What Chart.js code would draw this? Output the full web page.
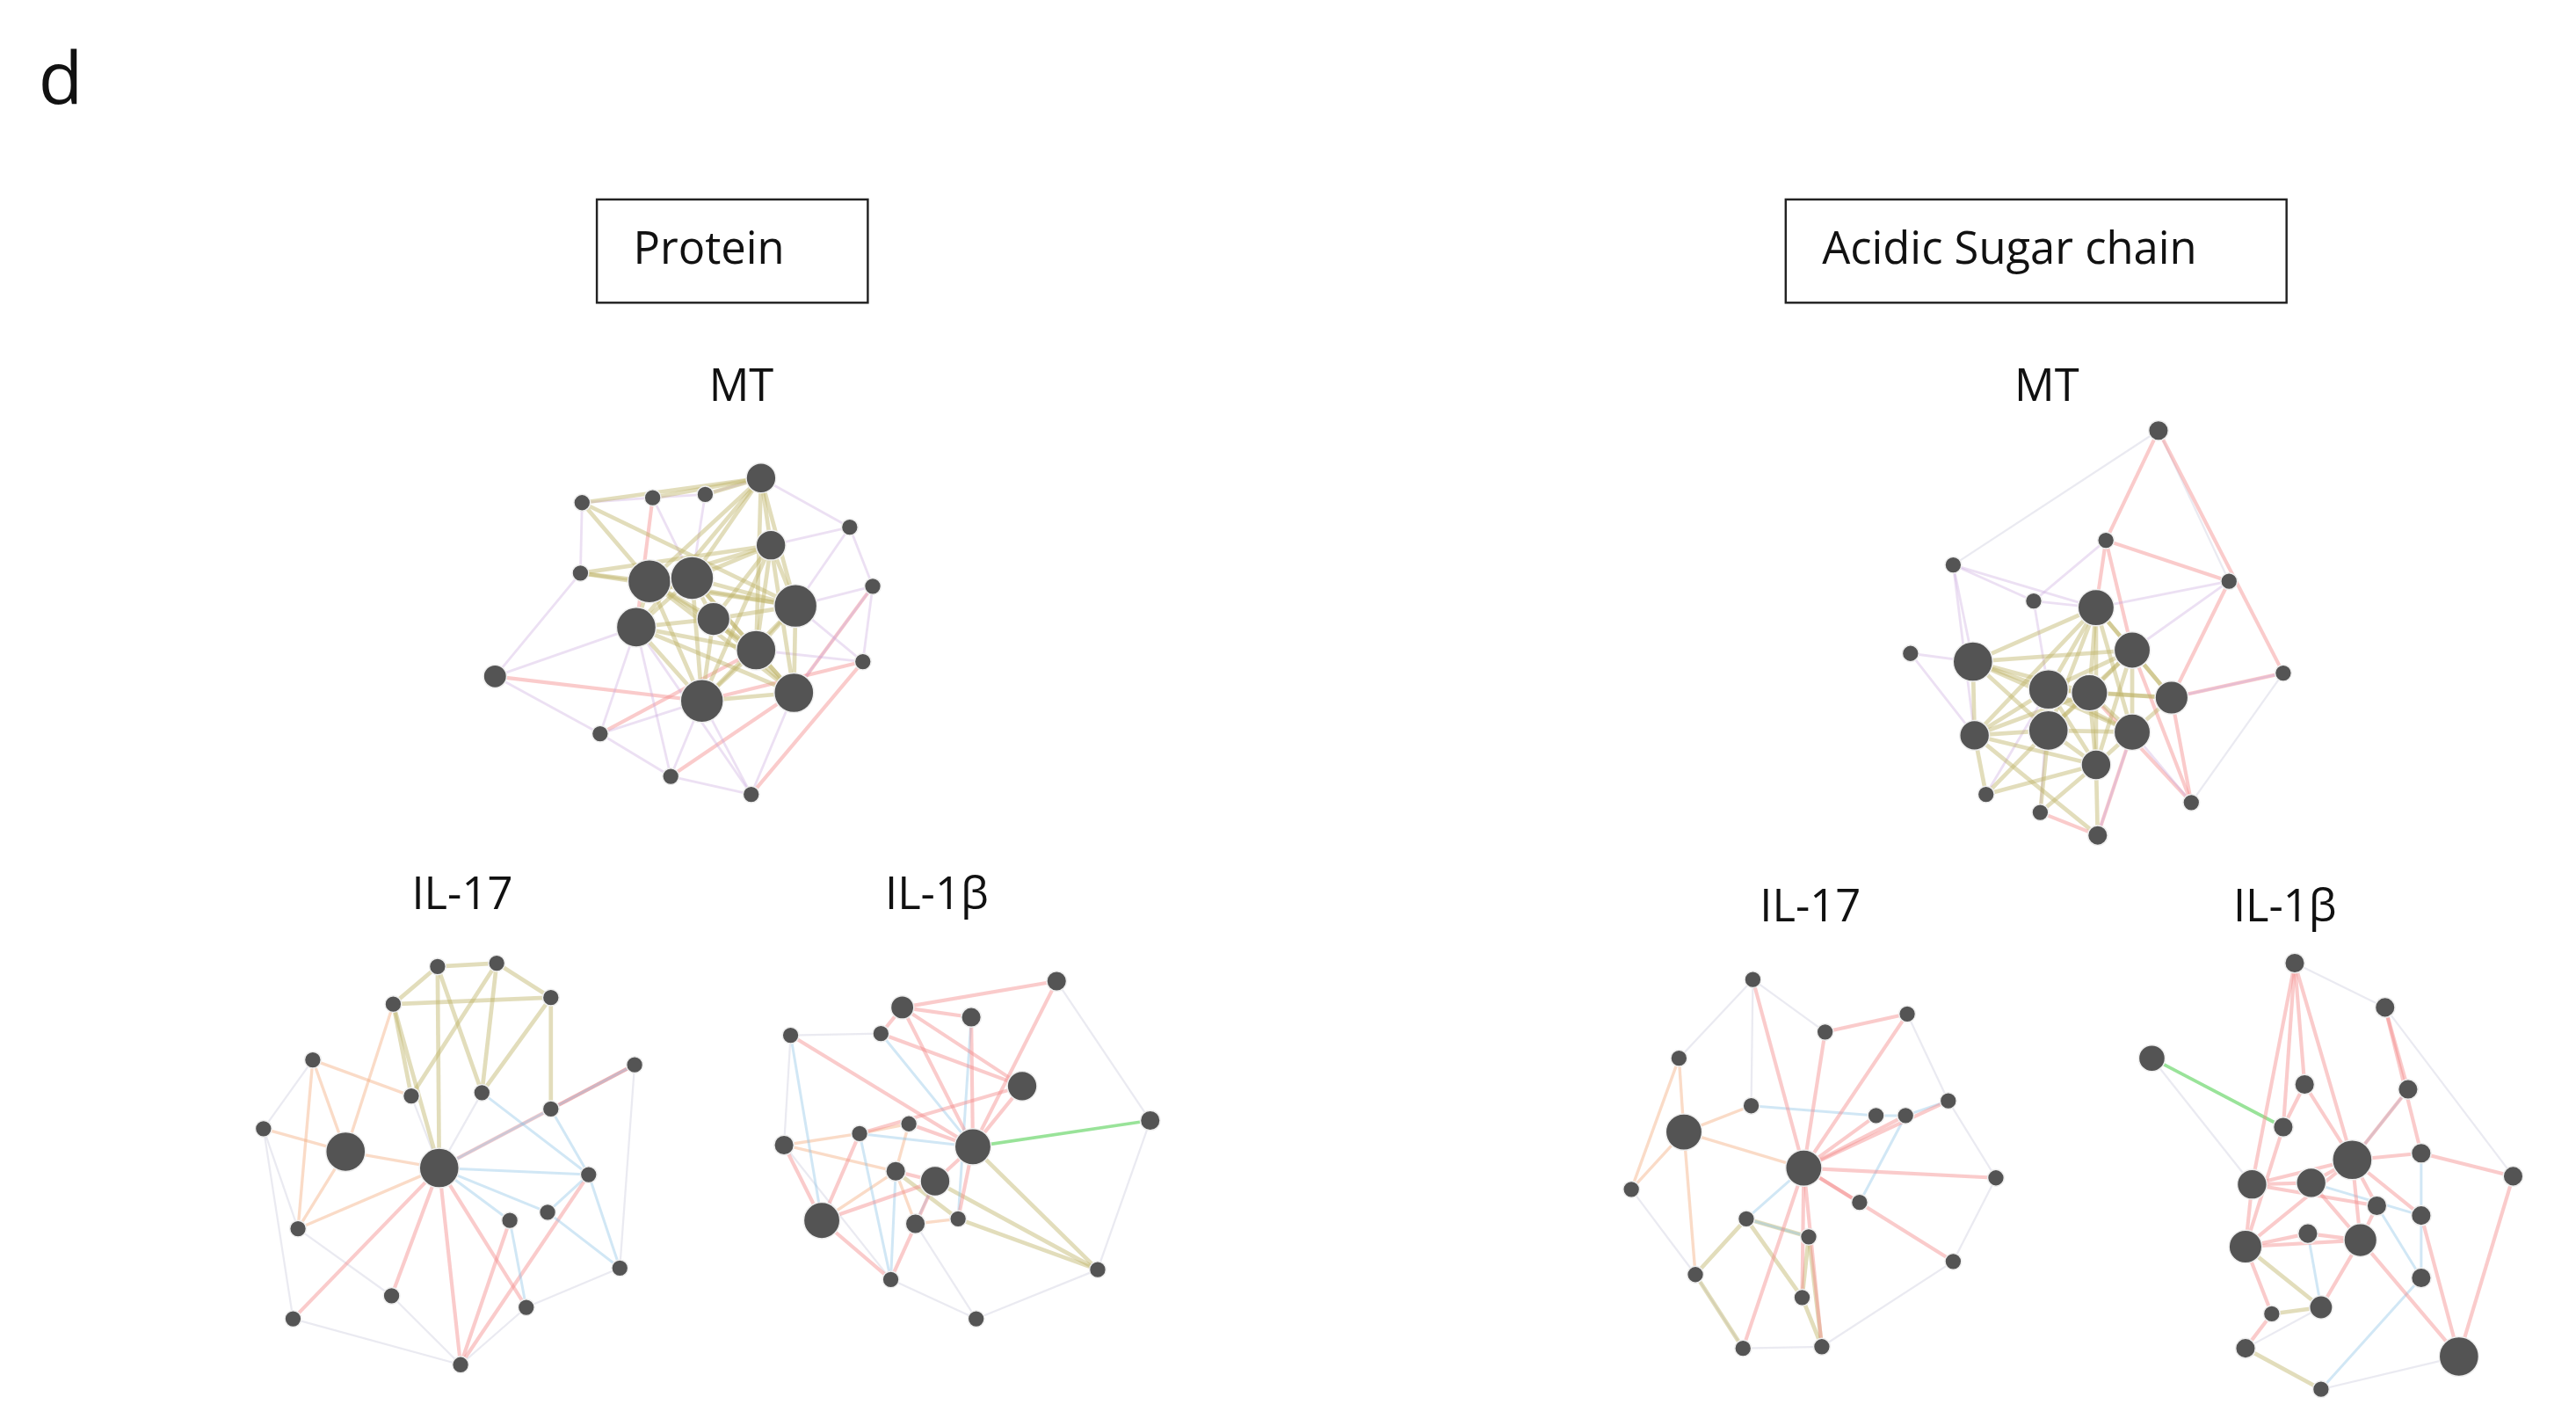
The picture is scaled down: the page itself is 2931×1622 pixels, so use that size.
<!DOCTYPE html>
<html lang="en">
<head>
<meta charset="UTF-8">
<script src="https://cdn.jsdelivr.net/npm/chart.js"></script>
<style>
  html, body { margin: 0; padding: 0; background: #fff; }
  #wrap { width: 2931px; height: 1622px; position: relative; }
</style>
<title>Networks</title>
</head>
<body>
<div id="wrap"><canvas id="myChart"></canvas></div>
<script>
// node positions in figure units (x 0..1560, y 0..863), r = node radius
const proteinMT = [[395,350,13],[421,348,13],[387,378,12],[434,373,10],[484,365,13],[460,392,12],[427,423,13],[483,418,12],[463,287,9],[469,328,9],
  [354,302,5],[397,299,5],[429,297,5],[517,317,5],[353,345,5],[531,353,5],[301,408,7],[525,399,5],[365,443,5],[408,469,5],[457,480,5]];
const proteinMTEdges = {
  olive: "0-1 0-2 0-3 0-4 0-5 0-6 0-7 0-8 0-9 1-2 1-3 1-4 1-5 1-6 1-7 1-8 1-9 2-3 2-5 2-6 2-7 2-8 3-4 3-5 3-6 3-7 3-9 4-5 4-6 4-7 4-8 4-9 5-6 5-7 5-8 5-9 6-7 6-9 7-9 8-9 10-0 10-8 11-8 12-8 14-0 14-9 14-4 10-4",
  purple: "10-11 11-12 12-8 13-4 13-9 15-4 15-7 17-5 17-4 18-2 18-6 19-6 19-2 20-6 20-7 14-16 16-2 10-14 13-15 15-17 18-19 11-1 12-1 13-8 19-20 16-18 2-20",
  pink: "16-6 20-17 7-15 17-6 18-5 11-2 19-7"
};
const acidicMT = [[1276,366,11],[1298,392,11],[1201,399,12],[1247,416,12],[1272,418,11],[1322,421,10],[1247,441,12],[1298,442,11],[1202,444,9],[1276,462,9],
  [1314,258,6],[1282,325,5],[1189,340,5],[1238,362,5],[1357,350,5],[1163,394,5],[1390,406,5],[1209,480,5],[1242,491,5],[1334,485,5],[1277,505,6]];
const acidicMTEdges = {
  olive: "0-1 0-2 0-3 0-4 0-5 0-6 0-7 0-8 0-9 1-2 1-3 1-4 1-5 1-6 1-7 1-9 2-3 2-4 2-6 2-7 2-8 3-4 3-5 3-6 3-7 3-8 3-9 4-5 4-6 4-7 4-8 4-9 5-7 6-7 6-8 6-9 7-9 8-9 17-8 17-6 18-6 18-9 20-9 20-8 17-9",
  purple: "12-13 12-2 12-0 13-0 15-2 15-8 11-13 12-8 14-1 14-0 13-3 17-3 18-3 20-7 19-7 16-5",
  pink: "10-11 11-0 10-16 11-14 1-19 5-16 7-20 14-5 11-1 19-5 20-18 19-4",
  grey: "10-12 10-14 16-19"
};
const proteinIL17 = [[210,698,12],[267,708,12],[266,585,5],[302,583,5],[239,608,5],[335,604,5],[190,642,5],[386,645,5],[250,664,5],[293,662,5],
  [335,672,5],[160,684,5],[358,712,5],[181,745,5],[310,740,5],[333,735,5],[377,769,5],[238,786,5],[320,793,5],[178,800,5],[280,828,5]];
const proteinIL17Edges = {
  orange: "6-0 6-13 0-11 0-13 0-1 6-8 13-1 4-0",
  olive: "2-3 2-4 3-5 4-5 2-9 3-9 4-8 5-9 5-10 4-1 3-8 2-1",
  blue: "1-10 1-12 1-15 1-14 10-12 12-15 9-12 15-16 14-18 12-16 10-7",
  pink: "1-7 1-20 1-17 1-19 14-20 12-20 7-10 1-18",
  grey: "11-19 19-20 20-18 18-16 13-17 17-20 11-13 6-11 16-7 8-1 9-1"
};
const proteinIL1b = [[592,695,11],[622,658,9],[569,716,9],[500,740,11],[549,610,7],[591,616,6],[643,594,6],[481,627,5],[536,626,5],[477,694,6],
  [523,687,5],[553,681,5],[545,710,6],[700,679,6],[557,742,6],[583,739,5],[542,776,5],[668,770,5],[594,800,5]];
const proteinIL1bEdges = {
  pink: "0-1 0-4 0-5 0-2 1-8 1-4 3-9 3-2 4-8 5-4 7-0 0-6 3-10 2-12 0-11 2-16 16-3 1-10 0-15 6-4",
  blue: "0-8 2-14 12-16 10-16 0-10 5-15 7-3",
  green: "0-13",
  olive: "0-17 2-17 15-17 12-15",
  orange: "9-10 10-11 11-12 12-14 14-15 9-12 3-12",
  grey: "7-9 7-8 16-18 17-18 6-13 13-17 9-16 14-18"
};
const acidicIL17 = [[1025,686,11],[1098,708,11],[1067,593,5],[1161,614,5],[1111,625,5],[1022,641,5],[1186,667,5],[1066,670,5],[1142,676,5],[1160,676,5],
  [1215,714,5],[993,721,5],[1132,729,5],[1063,739,5],[1101,750,5],[1189,765,5],[1032,773,5],[1097,787,5],[1061,818,5],[1109,817,5]];
const acidicIL17Edges = {
  orange: "5-0 0-11 5-11 0-1 0-7 0-16",
  pink: "1-2 1-4 1-3 1-6 1-8 1-9 1-10 1-12 1-15 1-17 1-19 1-18 4-3",
  blue: "7-8 8-9 9-6 1-13 13-14 12-9",
  olive: "13-16 13-17 14-17 16-18 17-19 14-19 13-14",
  grey: "2-5 2-7 3-6 6-10 10-15 15-19 19-18 18-16 16-11 2-4"
};
const acidicIL1b = [[1432,703,12],[1437,752,10],[1367,756,10],[1371,718,9],[1407,717,9],[1497,823,12],[1397,583,6],[1310,641,8],[1452,610,6],[1403,657,6],
  [1466,660,6],[1390,683,6],[1474,699,6],[1530,713,6],[1474,737,6],[1405,748,6],[1474,775,6],[1413,793,7],[1367,818,6],[1413,843,5],[1383,797,5],[1447,731,6]];
const acidicIL1bEdges = {
  pink: "6-0 6-3 6-11 0-4 0-3 0-1 0-2 1-2 2-3 3-4 4-1 1-15 2-15 0-12 0-14 0-21 21-1 1-5 14-5 12-13 13-5 0-9 9-11 8-10 8-12 11-2 10-0 3-21 2-20 20-18 6-9 17-1",
  green: "7-11",
  blue: "0-10 4-14 14-16 21-16 12-14 15-17 16-19",
  olive: "2-17 20-17 18-19",
  grey: "7-3 8-13 19-5 18-17 6-8"
};
const labels = [
  ["MT", 451, 232], ["MT", 1246, 232],
  ["IL-17", 281, 542], ["IL-1β", 570, 542],
  ["IL-17", 1102, 550], ["IL-1β", 1391, 550]
];
const boxes = [["Protein", 363, 117, 528, 180], ["Acidic Sugar chain", 1087, 117, 1392, 180]];

const edgeColors = {
  olive: ['rgba(190,180,105,0.45)', 2.5],
  purple: ['rgba(200,165,220,0.35)', 1.5],
  pink: ['rgba(245,140,140,0.45)', 2.2],
  orange: ['rgba(245,175,130,0.45)', 1.8],
  blue: ['rgba(140,195,230,0.4)', 1.6],
  green: ['rgba(110,215,110,0.7)', 2],
  grey: ['rgba(195,195,215,0.35)', 1.2]
};
const S = 2931 / 1560;

const datasets = [];
const networks = [
  [proteinMT, proteinMTEdges], [acidicMT, acidicMTEdges],
  [proteinIL17, proteinIL17Edges], [proteinIL1b, proteinIL1bEdges],
  [acidicIL17, acidicIL17Edges], [acidicIL1b, acidicIL1bEdges]
];
networks.forEach(([nodes, edges]) => {
  Object.keys(edges).forEach(key => {
    edges[key].split(' ').forEach(pair => {
      const [a, b] = pair.split('-').map(Number);
      datasets.push({
        data: [{x: nodes[a][0], y: nodes[a][1]}, {x: nodes[b][0], y: nodes[b][1]}],
        showLine: true, pointRadius: 0, borderColor: edgeColors[key][0],
        borderWidth: edgeColors[key][1] * S, order: 2
      });
    });
  });
});
networks.forEach(([nodes]) => {
  datasets.push({
    data: nodes.map(n => ({x: n[0], y: n[1]})),
    pointRadius: nodes.map(n => n[2] * S),
    backgroundColor: '#545454', borderColor: '#eeeeee', borderWidth: 1.5,
    showLine: false, order: 1
  });
});

const textPlugin = {
  id: 'figText',
  afterDraw: (chart) => {
    const {ctx, scales: {x, y}} = chart;
    ctx.save();
    ctx.fillStyle = '#111';
    ctx.textBaseline = 'middle';
    ctx.font = (44 * S) + 'px "Open Sans", sans-serif';
    ctx.fillText('d', x.getPixelForValue(23), y.getPixelForValue(46));
    ctx.font = (27 * S) + 'px "Open Sans", sans-serif';
    ctx.textAlign = 'center';
    labels.forEach(([t, lx, ly]) => ctx.fillText(t, x.getPixelForValue(lx), y.getPixelForValue(ly)));
    ctx.textAlign = 'left';
    ctx.strokeStyle = '#222';
    ctx.lineWidth = 1.3 * S;
    boxes.forEach(([t, x0, y0, x1, y1]) => {
      const px0 = x.getPixelForValue(x0), py0 = y.getPixelForValue(y0);
      const px1 = x.getPixelForValue(x1), py1 = y.getPixelForValue(y1);
      ctx.strokeRect(px0, py0, px1 - px0, py1 - py0);
      ctx.fillText(t, px0 + 22 * S, (py0 + py1) / 2);
    });
    ctx.restore();
  }
};

new Chart(document.getElementById('myChart'), {
  type: 'scatter',
  data: { datasets: datasets },
  options: {
    responsive: true, maintainAspectRatio: false, animation: false,
    layout: { padding: 0 },
    plugins: { legend: { display: false }, tooltip: { enabled: false } },
    scales: {
      // ranges compensate for the padding Chart.js reserves around points
      x: { type: 'linear', min: 13.4, max: 1554.4, display: false },
      y: { type: 'linear', min: 9.2, max: 851.5, reverse: true, display: false }
    }
  },
  plugins: [textPlugin]
});
</script>
</body>
</html>
